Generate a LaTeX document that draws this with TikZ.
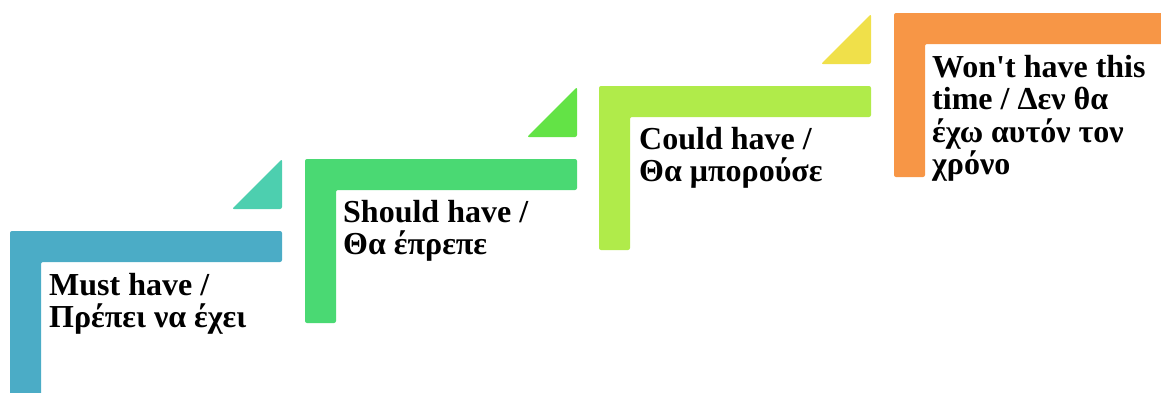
\documentclass[tikz,border=0pt]{standalone}
\usepackage{fontspec}
\newfontfamily\stepfont{Liberation Serif}
\definecolor{mustbar}{HTML}{4BACC6}
\definecolor{musttri}{HTML}{4DCFAF}
\definecolor{shouldbar}{HTML}{4AD973}
\definecolor{shouldtri}{HTML}{63E346}
\definecolor{couldbar}{HTML}{B0EB4A}
\definecolor{couldtri}{HTML}{F0E04A}
\definecolor{wontbar}{HTML}{F79646}

\begin{document}
\begin{tikzpicture}[
  x=1pt, y=-1pt,
  stepbar/.style={rounded corners=2pt},
  steptext/.style={font=\stepfont\bfseries\fontsize{32}{32.5}\selectfont, align=left, inner sep=0pt, anchor=base west}
]
\useasboundingbox (0,0) rectangle (1161,392);
\clip (0,0) rectangle (1161,392);
% L-shaped bars
\foreach \x/\y/\bar in {10/231/mustbar, 305/159/shouldbar, 599/86/couldbar, 894/13/wontbar} {
  \fill[stepbar, \bar] (\x,\y+164) -- (\x,\y) -- (\x+272,\y) -- (\x+272,\y+31)
    -- (\x+31,\y+31) -- (\x+31,\y+164) -- cycle;
}
% triangles
\fill[stepbar, musttri] (232,209) -- (282,209) -- (282,159) -- cycle;
\fill[stepbar, shouldtri] (527,137) -- (577,137) -- (577,87) -- cycle;
\fill[stepbar, couldtri] (821,64) -- (871,64) -- (871,14) -- cycle;

% labels (anchored at the baseline of the last line)
\node[steptext] (must) at (49,327.5) {Must have /\\Πρέπει να έχει};
\node[steptext] (should) at (343,254.5) {Should have /\\Θα έπρεπε};
\node[steptext] (could) at (639,181.5) {Could have /\\Θα μπορούσε};
\node[steptext] (wont) at (932,174.5) {Won't have this\\time / Δεν θα\\έχω αυτόν τον\\χρόνο};
\end{tikzpicture}
\end{document}
